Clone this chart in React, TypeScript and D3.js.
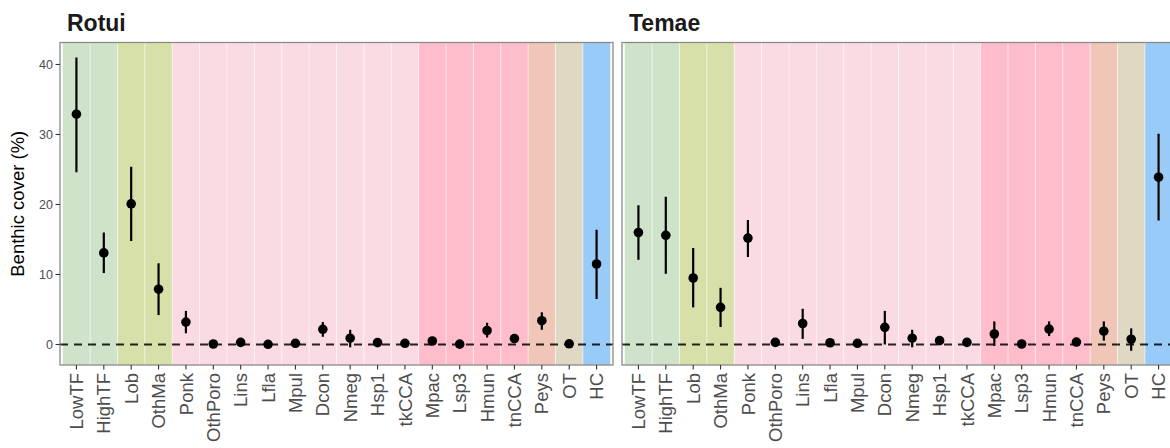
import React from "react";
import * as d3 from "d3";

const categories = ["LowTF","HighTF","Lob","OthMa","Ponk","OthPoro","Lins","Lfla","Mpul","Dcon","Nmeg","Hsp1","tkCCA","Mpac","Lsp3","Hmun","tnCCA","Peys","OT","HC"];
const categoryGroup = ["turf","turf","macro","macro","sponge","sponge","sponge","sponge","sponge","sponge","sponge","sponge","sponge","cca","cca","cca","cca","peys","other","coral"];
const groupNames = ["turf","macro","sponge","cca","peys","other","coral"];
const groupColors = ["#CFE3CA","#D8E0AA","#FBDBE3","#FFBDCC","#EFC6B8","#DFD8C3","#99CBF8"];

const rotuiMean = [32.9,13.1,20.1,7.9,3.2,0.07,0.3,0.03,0.17,2.17,0.9,0.27,0.17,0.5,0.05,2.0,0.85,3.4,0.1,11.5];
const rotuiLow  = [24.6,10.2,14.8,4.2,1.6,0.0,0.15,0.0,0.05,1.1,-0.4,0.1,0.05,0.3,0.0,1.0,0.4,2.1,0.0,6.5];
const rotuiHigh = [41.0,16.0,25.4,11.6,4.8,0.15,0.45,0.06,0.3,3.2,2.1,0.45,0.3,0.7,0.1,3.1,1.4,4.6,0.2,16.4];

const temaeMean = [16.0,15.6,9.5,5.3,15.2,0.3,3.0,0.25,0.17,2.45,0.9,0.55,0.3,1.5,0.07,2.2,0.35,1.9,0.75,23.9];
const temaeLow  = [12.1,10.1,5.3,2.5,12.5,-0.2,0.8,0.1,0.05,0.0,-0.4,0.3,0.15,-0.2,0.0,1.2,0.2,0.55,-0.9,17.7];
const temaeHigh = [19.9,21.1,13.8,8.1,17.8,0.7,5.1,0.4,0.3,4.8,2.1,0.8,0.45,3.3,0.15,3.3,0.5,3.3,2.3,30.1];

const yTicks = [0,10,20,30,40];
const siteNames = ["Rotui","Temae"];

const W = 1170, H = 448;
const top = 42.5, bottom = 365;
const panelW = 553;
const panelX = [60, 622];
const FONT = "'Liberation Sans', Arial, Helvetica, sans-serif";

const y = d3.scaleLinear().domain([-2.93, 43.14]).range([bottom, top]);
const colorScale = d3.scaleOrdinal<string, string>().domain(groupNames).range(groupColors);

function Panel({ x0, title, mean, low, high, showY }: any) {
  const x = d3.scaleLinear().domain([0.4, categories.length + 0.6]).range([x0, x0 + panelW]);
  const clipId = "clip-" + title;
  return (
    <g>
      <defs>
        <clipPath id={clipId}>
          <rect x={x0} y={top} width={panelW} height={bottom - top} />
        </clipPath>
      </defs>
      <text x={x0 + 7} y={31} fontFamily={FONT} fontWeight="bold" fontSize={23} fill="#1a1a1a">{title}</text>
      <g clipPath={`url(#${clipId})`}>
        <rect x={x0} y={top} width={panelW} height={bottom - top} fill="#ffffff" />
        {categories.map((c, i) => (
          <rect key={c} x={x(i + 0.5)} y={top} width={x(i + 1.5) - x(i + 0.5)} height={bottom - top}
            fill={colorScale(categoryGroup[i])} />
        ))}
        {categories.slice(1).map((c, i) => (
          <line key={c} x1={x(i + 1.5)} x2={x(i + 1.5)} y1={top} y2={bottom} stroke="#ffffff" strokeOpacity={0.55} strokeWidth={1} />
        ))}
        <line x1={x0} x2={x0 + panelW} y1={y(0)} y2={y(0)} stroke="#000" strokeOpacity={0.85} strokeWidth={1.8} strokeDasharray="8,6" />
        {categories.map((c, i) => (
          <g key={c}>
            <line x1={x(i + 1)} x2={x(i + 1)} y1={y(low[i])} y2={y(high[i])} stroke="#000" strokeWidth={2.2} />
            <circle cx={x(i + 1)} cy={y(mean[i])} r={4.8} fill="#000" />
          </g>
        ))}
      </g>
      <rect x={x0} y={top} width={panelW} height={bottom - top} fill="none" stroke="#8a8a8a" strokeWidth={1.3} />
      {categories.map((c, i) => (
        <g key={c}>
          <line x1={x(i + 1)} x2={x(i + 1)} y1={bottom} y2={bottom + 4.5} stroke="#333" strokeWidth={1.1} />
          <text transform={`translate(${x(i + 1)},${bottom + 8}) rotate(-90)`} textAnchor="end" dy="0.36em"
            fontFamily={FONT} fontSize={18.5} fill="#4D4D4D">{c}</text>
        </g>
      ))}
      {showY && yTicks.map(t => (
        <g key={t}>
          <line x1={x0 - 4.5} x2={x0} y1={y(t)} y2={y(t)} stroke="#333" strokeWidth={1.1} />
          <text x={x0 - 7} y={y(t)} dy="0.36em" textAnchor="end" fontFamily={FONT} fontSize={12.5} fill="#4D4D4D">{t}</text>
        </g>
      ))}
    </g>
  );
}

export default function App() {
  return (
    <svg width={W} height={H} style={{ position: "absolute", left: 0, top: 0, background: "#fff" }}>
      <rect x={0} y={0} width={W} height={H} fill="#fff" />
      <text transform={`translate(24,${(top + bottom) / 2}) rotate(-90)`} textAnchor="middle"
        fontFamily={FONT} fontSize={18.5} fill="#000">Benthic cover (%)</text>
      <Panel x0={panelX[0]} title={siteNames[0]} mean={rotuiMean} low={rotuiLow} high={rotuiHigh} showY={true} />
      <Panel x0={panelX[1]} title={siteNames[1]} mean={temaeMean} low={temaeLow} high={temaeHigh} showY={false} />
    </svg>
  );
}
